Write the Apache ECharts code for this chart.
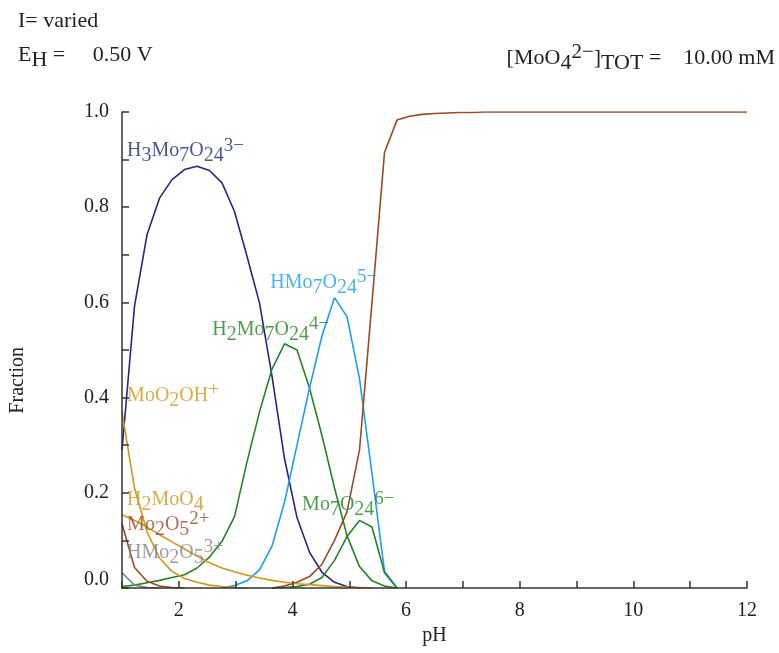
<!DOCTYPE html>
<html><head><meta charset="utf-8">
<script src="https://cdn.jsdelivr.net/npm/echarts@6/dist/echarts.min.js"></script>
<style>html,body{margin:0;padding:0;background:#fff}#c{width:779px;height:653px}</style>
</head><body><div id="c"></div>
<script>
const F = '"Liberation Serif","DejaVu Serif",serif';

const pH = [1.00,1.22,1.44,1.66,1.88,2.10,2.32,2.54,2.76,2.98,3.20,3.42,3.64,3.86,4.08,4.30,4.52,4.74,4.96,5.18,5.40,5.62,5.84,6.06,6.28,6.50,6.72,6.94,7.16,7.38,7.60,7.82,8.04,8.26,8.48,8.70,8.92,9.14,9.36,9.58,9.80,10.02,10.24,10.46,10.68,10.90,11.12,11.34,11.56,11.78,12.00];

const H3Mo7O24 = [0.29,0.592,0.742,0.819,0.858,0.879,0.886,0.877,0.851,0.791,0.697,0.599,0.445,0.272,0.148,0.075,0.033,0.012,0.003,0.0];
const H2Mo7O24 = [0.003,0.006,0.011,0.016,0.022,0.028,0.042,0.065,0.098,0.15,0.265,0.37,0.46,0.513,0.50,0.42,0.32,0.21,0.11,0.045,0.015,0.004,0.0];
const HMo7O24 = [null,null,null,null,null,null,null,null,0.0,0.005,0.015,0.038,0.088,0.18,0.30,0.42,0.53,0.61,0.57,0.44,0.24,0.035,0.0];
const Mo7O24 = [null,null,null,null,null,null,null,null,null,null,null,null,0.0,0.001,0.003,0.008,0.022,0.058,0.108,0.142,0.128,0.032,0.0];
const MoO4 = [null,null,null,null,null,null,null,null,null,null,null,null,0.0,0.004,0.012,0.024,0.05,0.1,0.16,0.29,0.6,0.915,0.983,0.991,0.995,0.997,0.998,0.999,0.999,1,1,1,1,1,1,1,1,1,1,1,1,1,1,1,1,1,1,1,1,1,1];
const MoO2OH = [0.37,0.21,0.118,0.063,0.035,0.02,0.012,0.006,0.003,0.001,0.0];
const H2MoO4 = [0.154,0.142,0.128,0.112,0.097,0.082,0.067,0.053,0.042,0.034,0.027,0.021,0.016,0.012,0.009,0.007,0.005,0.003,0.002,0.001,0.0];
const Mo2O5 = [0.135,0.043,0.014,0.004,0.001,0.0];
const HMo2O5 = [0.032,0.006,0.001,0.0];

const C = {navy:'#262686', sky:'#1a9ff2', green:'#238523', brown:'#9c4a24', gold:'#d3961a', gray:'#858585'};

const speciesLabels = [
  {tok:[['n','H'],['s','3'],['n','Mo'],['s','7'],['n','O'],['s','24'],['p','3−']], x:1.09, y:0.918, color:C.navy},
  {tok:[['n','MoO'],['s','4'],['p','2−']], x:9.30, y:1.03, color:C.brown},
  {tok:[['n','HMo'],['s','7'],['n','O'],['s','24'],['p','5−']], x:3.61, y:0.641, color:C.sky},
  {tok:[['n','H'],['s','2'],['n','Mo'],['s','7'],['n','O'],['s','24'],['p','4−']], x:2.59, y:0.543, color:C.green},
  {tok:[['n','MoO'],['s','2'],['n','OH'],['p','+']], x:1.09, y:0.404, color:C.gold},
  {tok:[['n','H'],['s','2'],['n','MoO'],['s','4']], x:1.09, y:0.186, color:C.gold},
  {tok:[['n','Mo'],['s','2'],['n','O'],['s','5'],['p','2+']], x:1.09, y:0.133, color:C.brown},
  {tok:[['n','HMo'],['s','2'],['n','O'],['s','5'],['p','3+']], x:1.09, y:0.074, color:C.gray},
  {tok:[['n','Mo'],['s','7'],['n','O'],['s','24'],['p','6−']], x:4.17, y:0.175, color:C.green}
];

const rich = {
  n:{fontFamily:F, fontSize:20, lineHeight:30},
  s:{fontFamily:F, fontSize:20, lineHeight:18, verticalAlign:'bottom'},
  p:{fontFamily:F, fontSize:19, lineHeight:20, verticalAlign:'top'}
};
const richTop = {
  n:{fontFamily:F, fontSize:22, lineHeight:32, fill:'#222'},
  s:{fontFamily:F, fontSize:22, lineHeight:18, verticalAlign:'bottom', fill:'#222'},
  p:{fontFamily:F, fontSize:21, lineHeight:22, verticalAlign:'top', fill:'#222'}
};
const toRich = tok => tok.map(t => '{' + t[0] + '|' + t[1] + '}').join('');

function pairs(arr){ return pH.map((x,i)=>[x, (i < arr.length ? arr[i] : null)]); }
function line(name, arr, color){
  return {name, type:'line', data:pairs(arr), showSymbol:false, symbol:'none', connectNulls:false,
    lineStyle:{color, width:1.6}, itemStyle:{color}, animation:false, z:3};
}

const chart = echarts.init(document.getElementById('c'), null, {renderer:'canvas'});
chart.setOption({
  animation:false,
  backgroundColor:'#fff',
  grid:{left:122, right:32, top:112, bottom:65},
  xAxis:{type:'value', min:1, max:12, interval:1, z:10,
    axisLine:{lineStyle:{color:'#333', width:1.5}},
    axisTick:{inside:true, length:7, lineStyle:{color:'#333', width:1.5}},
    splitLine:{show:false},
    axisLabel:{margin:13, color:'#222', fontFamily:F, fontSize:20,
      formatter: v => (Math.round(v) % 2 === 0 ? String(Math.round(v)) : '')},
    name:'pH', nameLocation:'middle', nameGap:34,
    nameTextStyle:{color:'#222', fontFamily:F, fontSize:20}
  },
  yAxis:{type:'value', min:0, max:1, interval:0.1, z:10,
    axisLine:{show:true, lineStyle:{color:'#333', width:1.5}},
    axisTick:{show:true, inside:true, length:7, lineStyle:{color:'#333', width:1.5}},
    splitLine:{show:false},
    axisLabel:{margin:13, color:'#222', fontFamily:F, fontSize:20,
      formatter: v => { const k = Math.round(v*10); if (k % 2) return ''; return k === 0 ? '{z|0.0}' : (k/10).toFixed(1); },
      rich:{z:{fontFamily:F, fontSize:20, color:'#222', padding:[0,0,16,0]}}}
  },
  series:[
    line('H3Mo7O24', H3Mo7O24, C.navy),
    line('H2Mo7O24', H2Mo7O24, C.green),
    line('HMo7O24', HMo7O24, C.sky),
    line('Mo7O24', Mo7O24, C.green),
    line('MoO4', MoO4, C.brown),
    line('MoO2OH', MoO2OH, C.gold),
    line('H2MoO4', H2MoO4, C.gold),
    line('Mo2O5', Mo2O5, C.brown),
    line('HMo2O5', HMo2O5, C.gray),
    {type:'scatter', symbolSize:0, silent:true, z:20, animation:false,
      data: speciesLabels.map(l => ({value:[l.x, l.y],
        label:{show:true, position:'right', distance:0, color:l.color, formatter: toRich(l.tok), rich}}))
    }
  ],
  graphic:[
    {type:'text', left:18, top:10, style:{text:'I= varied', font:'22px '+F, fill:'#222'}},
    {type:'text', left:18, top:44, style:{text:'{n|E}{s|H}{n| =     0.50 V}', fill:'#222', rich:richTop}},
    {type:'text', right:4, top:42, style:{text:'{n|[MoO}{s|4}{p|2−}{n|]}{s|TOT}{n| =    10.00 mM}', fill:'#222', rich:richTop}},
    {type:'text', left:8, top:347, rotation:Math.PI/2, style:{text:'Fraction', font:'20px '+F, fill:'#222', align:'center', verticalAlign:'middle'}}
  ]
});
</script></body></html>
